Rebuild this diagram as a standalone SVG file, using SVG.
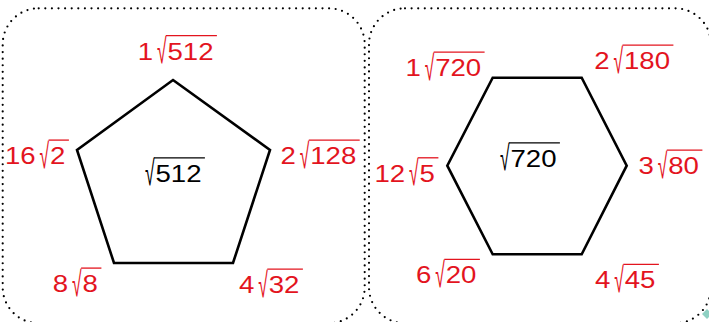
<svg xmlns="http://www.w3.org/2000/svg" width="709" height="322" viewBox="0 0 709 322">
<defs>
<style>
.frame{fill:none;stroke:#000;stroke-width:2.2;stroke-linecap:round;stroke-dasharray:0 6.6}
.shape{fill:none;stroke:#000;stroke-width:2.6;stroke-linejoin:miter}
.t{font-family:"Liberation Sans",Arial,sans-serif;font-size:23px}
.rad{font-family:"Liberation Sans",Arial,sans-serif;font-size:35px}
.red{fill:#e3141e}
.blk{fill:#000}
.ovr{stroke:#e3141e;stroke-width:1.3}
.ovb{stroke:#000;stroke-width:1.3}
</style>
</defs>
<rect width="709" height="322" fill="#fff"/>
<g id="frame-left"><rect class="frame" x="2.7" y="8.3" width="362" height="315" rx="36" ry="36"/></g>
<g id="frame-right"><rect class="frame" x="369" y="8.3" width="342" height="315" rx="36" ry="36"/></g>
<g id="pentagon"><polygon class="shape" points="173,80 270,150 233,263 114,263 77,150"/></g>
<g id="hexagon"><polygon class="shape" points="492.7,77.7 581.7,77.7 626.7,165.7 581.7,254.3 492.7,254.3 447.3,165.7"/></g>

<g id="label-p-top">
<text class="t red" transform="translate(137.7,59.5) scale(1.2,1)">1</text>
<text class="rad red" transform="translate(157,63) scale(0.5,1)">√</text>
<line class="ovr" x1="166" y1="35.6" x2="216.9" y2="35.6"/>
<text class="t red" transform="translate(167.45,59.5) scale(1.2,1)">512</text>
</g>
<g id="label-p-left">
<text class="t red" transform="translate(5,164) scale(1.2,1)">16</text>
<text class="rad red" transform="translate(39.6,167.5) scale(0.5,1)">√</text>
<line class="ovr" x1="48.6" y1="140.1" x2="68.9" y2="140.1"/>
<text class="t red" transform="translate(50.05,164) scale(1.2,1)">2</text>
</g>
<g id="label-p-right">
<text class="t red" transform="translate(280.5,164) scale(1.2,1)">2</text>
<text class="rad red" transform="translate(299.8,167.5) scale(0.5,1)">√</text>
<line class="ovr" x1="308.8" y1="140.1" x2="359.7" y2="140.1"/>
<text class="t red" transform="translate(310.25,164) scale(1.2,1)">128</text>
</g>
<g id="label-p-center">
<text class="rad blk" transform="translate(145,185.2) scale(0.5,1)">√</text>
<line class="ovb" x1="154" y1="157.8" x2="204.9" y2="157.8"/>
<text class="t blk" transform="translate(155.45,181.7) scale(1.2,1)">512</text>
</g>
<g id="label-p-bl">
<text class="t red" transform="translate(52.8,292) scale(1.2,1)">8</text>
<text class="rad red" transform="translate(72.1,295.5) scale(0.5,1)">√</text>
<line class="ovr" x1="81.1" y1="268.1" x2="101.4" y2="268.1"/>
<text class="t red" transform="translate(82.55,292) scale(1.2,1)">8</text>
</g>
<g id="label-p-br">
<text class="t red" transform="translate(239,293) scale(1.2,1)">4</text>
<text class="rad red" transform="translate(258.3,296.5) scale(0.5,1)">√</text>
<line class="ovr" x1="267.3" y1="269.1" x2="302.9" y2="269.1"/>
<text class="t red" transform="translate(268.75,293) scale(1.2,1)">32</text>
</g>

<g id="label-h-tl">
<text class="t red" transform="translate(405.4,76) scale(1.2,1)">1</text>
<text class="rad red" transform="translate(424.7,79.5) scale(0.5,1)">√</text>
<line class="ovr" x1="433.7" y1="52.1" x2="484.6" y2="52.1"/>
<text class="t red" transform="translate(435.15,76) scale(1.2,1)">720</text>
</g>
<g id="label-h-tr">
<text class="t red" transform="translate(594.2,69) scale(1.2,1)">2</text>
<text class="rad red" transform="translate(613.5,72.5) scale(0.5,1)">√</text>
<line class="ovr" x1="622.5" y1="45.1" x2="673.4" y2="45.1"/>
<text class="t red" transform="translate(623.95,69) scale(1.2,1)">180</text>
</g>
<g id="label-h-left">
<text class="t red" transform="translate(374.5,181.7) scale(1.2,1)">12</text>
<text class="rad red" transform="translate(409.1,185.2) scale(0.5,1)">√</text>
<line class="ovr" x1="418.1" y1="157.8" x2="438.4" y2="157.8"/>
<text class="t red" transform="translate(419.55,181.7) scale(1.2,1)">5</text>
</g>
<g id="label-h-right">
<text class="t red" transform="translate(638.5,174) scale(1.2,1)">3</text>
<text class="rad red" transform="translate(657.8,177.5) scale(0.5,1)">√</text>
<line class="ovr" x1="666.8" y1="150.1" x2="702.4" y2="150.1"/>
<text class="t red" transform="translate(668.25,174) scale(1.2,1)">80</text>
</g>
<g id="label-h-center">
<text class="rad blk" transform="translate(500,170.2) scale(0.5,1)">√</text>
<line class="ovb" x1="509" y1="142.8" x2="559.9" y2="142.8"/>
<text class="t blk" transform="translate(510.45,166.7) scale(1.2,1)">720</text>
</g>
<g id="label-h-bl">
<text class="t red" transform="translate(416,283.3) scale(1.2,1)">6</text>
<text class="rad red" transform="translate(435.3,286.8) scale(0.5,1)">√</text>
<line class="ovr" x1="444.3" y1="259.4" x2="479.9" y2="259.4"/>
<text class="t red" transform="translate(445.75,283.3) scale(1.2,1)">20</text>
</g>
<g id="label-h-br">
<text class="t red" transform="translate(595,288.3) scale(1.2,1)">4</text>
<text class="rad red" transform="translate(614.3,291.8) scale(0.5,1)">√</text>
<line class="ovr" x1="623.3" y1="264.4" x2="658.9" y2="264.4"/>
<text class="t red" transform="translate(624.75,288.3) scale(1.2,1)">45</text>
</g>
<g id="handle"><polygon points="707,309 712,314 707,319 702,314" fill="#8fd1c3"/></g>
</svg>
